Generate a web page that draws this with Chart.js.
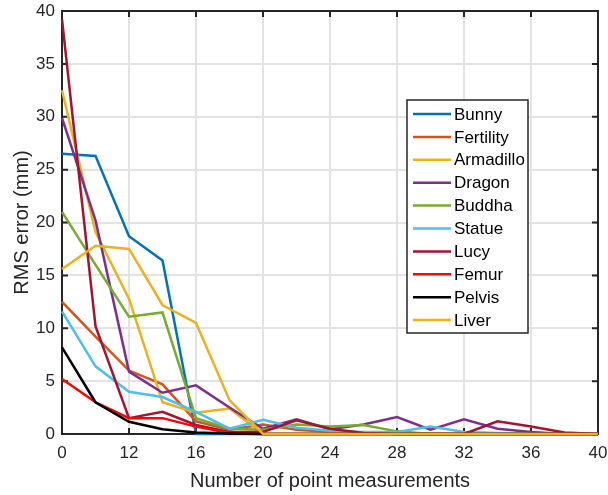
<!DOCTYPE html>
<html><head><meta charset="utf-8">
<script src="https://cdn.jsdelivr.net/npm/chart.js"></script>
<style>html,body{margin:0;padding:0;background:#fff;overflow:hidden}</style>
</head><body>
<canvas id="c" width="608" height="495" style="display:block;width:608px;height:495px"></canvas>
<script>
const xValues = [8,10,12,14,16,18,20,22,24,26,28,30,32,34,36,38,40];
const xTickValues = [8,12,16,20,24,28,32,36,40];
const xTickLabels = ['0','12','16','20','24','28','32','36','40'];
const seriesNames = ['Bunny','Fertility','Armadillo','Dragon','Buddha','Statue','Lucy','Femur','Pelvis','Liver'];
const seriesColors = ['#0072BD','#D95319','#EDB120','#7E2F8E','#77AC30','#4DBEEE','#A2142F','#FF0000','#000000','#EDB120'];
const bunny     = [26.5,26.3,18.7,16.4,0,0,0,0,0,0,0,0,0,0,0,0,0];
const fertility = [12.5,9.2,6.0,4.7,1.2,0.4,0.9,0.4,0.2,0.1,0,0,0,0,0,0,0];
const armadillo = [32.5,19.1,12.8,3.0,2.0,2.4,0,0,0,0,0,0,0,0,0,0,0];
const dragon    = [29.9,20.2,5.9,3.9,4.6,2.5,0.5,1.4,0.45,0.9,1.6,0.4,1.4,0.5,0.2,0,0];
const buddha    = [21.0,16.0,11.1,11.5,1.5,0.5,0.4,0.9,0.7,0.85,0.25,0,0,0,0,0,0];
const statue    = [11.6,6.4,4.0,3.5,2.1,0.5,1.35,0.6,0.3,0.2,0.2,0.7,0.2,0.1,0,0,0];
const lucy      = [39.2,10.2,1.5,2.1,0.85,0.2,0.2,1.3,0.5,0.1,0,0,0,1.2,0.7,0.15,0];
const femur     = [5.2,3.0,1.5,1.5,0.7,0.1,0,0,0,0,0,0,0,0,0,0,0];
const pelvis    = [8.2,3.0,1.15,0.45,0.15,0.05,0,0,0,0,0,0,0,0,0,0,0];
const liver     = [15.6,17.8,17.5,12.2,10.5,3.2,0,0,0,0,0,0,0,0,0,0,0];
const seriesValues = [bunny,fertility,armadillo,dragon,buddha,statue,lucy,femur,pelvis,liver];

const FONT = 'Arial, "Liberation Sans", Helvetica, sans-serif';
const TXT = '#262626';

const datasets = seriesNames.map((n,i)=>({
  label:n,
  data: xValues.map((x,j)=>({x:x,y:seriesValues[i][j]})),
  borderColor: seriesColors[i],
  backgroundColor: seriesColors[i],
  borderWidth: 2.5,
  pointRadius: 0,
  tension: 0,
  fill: false,
  clip: false,
  order: seriesNames.length - i
}));

const framePlugin = {
  id:'frame',
  beforeDatasetsDraw(chart){
    const {ctx, chartArea:a, scales} = chart;
    const x = scales.x, y = scales.y;
    ctx.save();
    ctx.strokeStyle = TXT; ctx.lineWidth = 2;
    ctx.strokeRect(a.left, a.top, a.right-a.left, a.bottom-a.top);
    const L = 6;
    ctx.beginPath();
    xTickValues.forEach(v=>{
      const px = x.getPixelForValue(v);
      ctx.moveTo(px,a.bottom); ctx.lineTo(px,a.bottom-L);
      ctx.moveTo(px,a.top); ctx.lineTo(px,a.top+L);
    });
    y.ticks.forEach(t=>{
      const py = y.getPixelForValue(t.value);
      ctx.moveTo(a.left,py); ctx.lineTo(a.left+L,py);
      ctx.moveTo(a.right,py); ctx.lineTo(a.right-L,py);
    });
    ctx.stroke();
    ctx.restore();
  },
  afterDatasetsDraw(chart){
    const ctx = chart.ctx;
    const bx = 407, by = 100, bw = 121, bh = 233;
    ctx.save();
    ctx.fillStyle = '#fff';
    ctx.fillRect(bx,by,bw,bh);
    ctx.strokeStyle = TXT; ctx.lineWidth = 1.5;
    ctx.strokeRect(bx,by,bw,bh);
    ctx.font = '17px ' + FONT;
    ctx.textBaseline = 'middle';
    ctx.textAlign = 'left';
    chart.data.datasets.forEach((d,i)=>{
      const yy = 114 + i*22.9;
      ctx.strokeStyle = d.borderColor; ctx.lineWidth = 2.5;
      ctx.beginPath(); ctx.moveTo(413,yy); ctx.lineTo(451,yy); ctx.stroke();
      ctx.fillStyle = '#000';
      ctx.fillText(d.label, 454, yy+1);
    });
    ctx.restore();
  }
};

new Chart(document.getElementById('c'), {
  type:'line',
  data:{datasets:datasets},
  options:{
    responsive:false,
    animation:false,
    devicePixelRatio:1,
    layout:{padding:{top:11,right:10,left:0,bottom:0}},
    plugins:{legend:{display:false},tooltip:{enabled:false}},
    scales:{
      x:{
        type:'linear', min:8, max:40,
        afterBuildTicks(s){ s.ticks = xTickValues.map(v=>({value:v})); },
        afterFit(s){ s.height = 61; s.paddingLeft = 0; s.paddingRight = 0; },
        ticks:{
          autoSkip:false, maxRotation:0, padding:9,
          color:TXT, font:{family:FONT,size:17},
          callback(v){ const k = xTickValues.indexOf(v); return k>=0 ? xTickLabels[k] : ''; }
        },
        grid:{color:'#e3e3e3', lineWidth:2, drawTicks:false},
        border:{display:false},
        title:{display:true, text:'Number of point measurements', color:TXT,
               font:{family:FONT,size:20}, padding:{top:0,bottom:2}}
      },
      y:{
        type:'linear', min:0, max:40,
        afterFit(s){ s.width = 62; s.paddingTop = 0; s.paddingBottom = 0; },
        ticks:{stepSize:5, padding:7, color:TXT, font:{family:FONT,size:17}},
        grid:{color:'#e3e3e3', lineWidth:2, drawTicks:false},
        border:{display:false},
        title:{display:true, text:'RMS error (mm)', color:TXT,
               font:{family:FONT,size:20}, padding:{top:10,bottom:0}}
      }
    }
  },
  plugins:[framePlugin]
});
</script>
</body></html>
